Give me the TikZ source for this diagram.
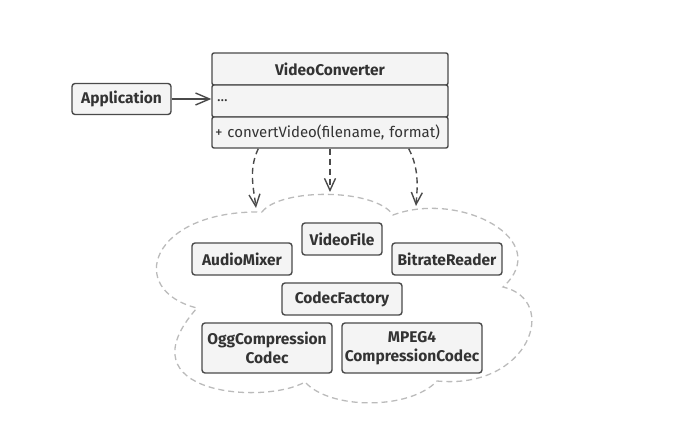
\documentclass[tikz,border=0pt]{standalone}
\usepackage{fontspec}
\setmainfont{Fira Sans}
\usetikzlibrary{positioning}
\usetikzlibrary{arrows.meta}
\definecolor{boxline}{HTML}{4A4A4A}
\definecolor{boxfill}{HTML}{F4F4F4}
\definecolor{txt}{HTML}{333333}
\definecolor{cloudline}{HTML}{BBBBBB}
\tikzset{
  box/.style={draw=boxline,fill=boxfill,line width=1.4pt,rounded corners=3pt,
    inner sep=0pt,text=txt,font=\bfseries\fontsize{15.5}{19}\selectfont,align=center},
  row/.style={box,rounded corners=2pt,minimum width=236pt,minimum height=32pt},
  uses/.style={draw=boxline,line width=1.4pt,dash pattern=on 6pt off 4pt,
    -{Straight Barb[length=12pt,width=11pt,line width=1.4pt]}},
}

\begin{document}
\begin{tikzpicture}[x=1pt,y=-1pt]
  \useasboundingbox (0,0) rectangle (697,422);
  % facade class
  \node[row] (vc) at (330,69) {VideoConverter};
  \node[row,below=-1.4pt of vc,text width=226pt,align=left,font=\fontsize{15}{19}\selectfont] (vcf) {...};
  \node[row,below=-1.4pt of vcf,minimum height=31pt,text width=230pt,align=left,font=\fontsize{15}{19}\selectfont] (vcm) {+ convertVideo(filename, format)};
  \node[box,minimum width=99pt,minimum height=31pt] (app) at (121.5,99) {Application};
  \draw[draw=boxline,line width=1.4pt,-{Straight Barb[length=14pt,width=12pt,line width=1.4pt]}]
    (app.east) -- (app.east -| vcf.west);
  % subsystem cloud
  \coordinate (c1) at (262,212);
  \coordinate (c2) at (393,215);
  \coordinate (c3) at (503,287);
  \coordinate (c4) at (437,381);
  \coordinate (c5) at (305,382);
  \coordinate (c6) at (197,308);
  \draw[cloudline,line width=1.3pt,dash pattern=on 6pt off 4pt]
    (c1) .. controls (280,188) and (375,188) .. (c2)
         .. controls (460,190) and (555,240) .. (c3)
         .. controls (560,300) and (530,390) .. (c4)
         .. controls (410,410) and (330,410) .. (c5)
         .. controls (265,405) and (120,395) .. (c6)
         .. controls (125,290) and (150,210) .. (c1);
  \node[box,minimum width=100pt,minimum height=32pt] (mix) at (242,259) {AudioMixer};
  \node[box,minimum width=80pt,minimum height=32pt] (file) at (342,239) {VideoFile};
  \node[box,minimum width=110pt,minimum height=32pt] (bitrate) at (447,259) {BitrateReader};
  \node[box,minimum width=120pt,minimum height=32pt] (factory) at (342,299) {CodecFactory};
  \node[box,minimum width=130pt,minimum height=50pt] (ogg) at (267,348) {OggCompression\\Codec};
  \node[box,minimum width=140pt,minimum height=50pt] (mpeg) at (412,348) {MPEG4\\CompressionCodec};
  % dependencies
  \coordinate (t1) at (256,208);
  \coordinate (t2) at (330,192);
  \coordinate (t3) at (416,206);
  \draw[uses] ([xshift=47pt]vcm.south west) .. controls (248,170) and (254,190) .. (t1);
  \draw[uses] (vcm.south -| t2) -- (t2);
  \draw[uses] ([xshift=-40pt]vcm.south east) .. controls (420,170) and (417,190) .. (t3);
\end{tikzpicture}
\end{document}
